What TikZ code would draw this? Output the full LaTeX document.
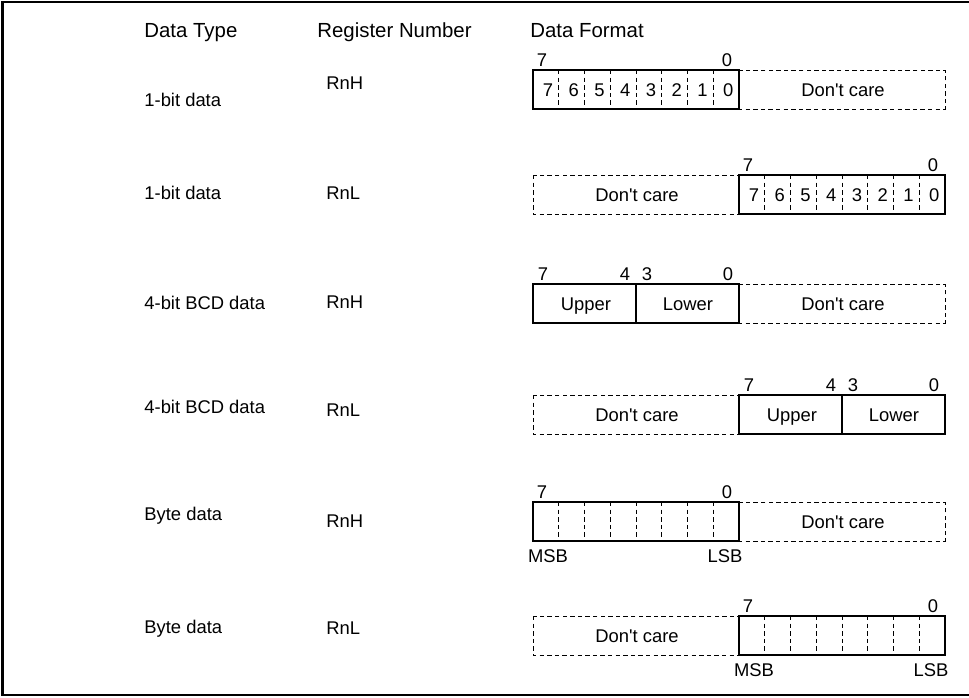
\documentclass[tikz,border=0pt]{standalone}
\usepackage{fontspec}
\setmainfont{Liberation Sans}
\usetikzlibrary{positioning}

\begin{document}
\begin{tikzpicture}[x=0.5pt, y=-0.5pt,
    txt/.style={inner sep=0pt, text height=6.6pt, text depth=0pt, font=\fontsize{9.2}{11}\selectfont},
    head/.style={txt, text height=7.3pt, font=\fontsize{10.2}{12}\selectfont},
    solidbox/.style={draw, line width=1.2pt},
    carebox/.style={draw, line width=0.45pt, dash pattern=on 2.2pt off 1.6pt},
    tick/.style={line width=0.45pt, dash pattern=on 2.2pt off 1.6pt}]
  \useasboundingbox (0,0) rectangle (969,697);
  \draw[line width=1.2pt] (969,2) -- (2.5,2) -- (2.5,695) -- (969,695);

  \node[head, anchor=west] (htype) at (144,30) {Data Type};
  \node[head, anchor=west] (hreg) at (317,30) {Register Number};
  \node[head, anchor=west] (hfmt) at (530,30) {Data Format};

  \foreach \n/\t/\ty/\r/\ry in {1/1-bit data/100/RnH/83, 2/1-bit data/193/RnL/193,
      3/4-bit BCD data/303/RnH/302, 4/4-bit BCD data/407/RnL/410,
      5/Byte data/514/RnH/521, 6/Byte data/627/RnL/628} {
    \node[txt, anchor=west] (type\n) at (144,\ty) {\t};
    \node[txt, anchor=west] (reg\n) at (326,\ry) {\r};
  }

  % don't care halves
  \foreach \n/\x/\top in {1/739/70, 2/533/175, 3/739/284, 4/533/395, 5/739/502, 6/533/616} {
    \draw[carebox] (\x,\top) rectangle ({\x+206},{\top+39});
    \node[txt] (care\n) at ({\x+104},{\top+19.5}) {Don\textquotesingle t care};
  }

  % 1-bit data
  \foreach \n/\x/\top in {1/533/70, 2/739/175} {
    \draw[solidbox] (\x,\top) rectangle ({\x+206},{\top+39});
    \foreach \i in {1,...,7}
      \draw[tick] ({\x+25.75*\i},\top) -- ({\x+25.75*\i},{\top+39});
    \foreach \i in {0,...,7}
      \node[txt] (bit\n\i) at ({\x+25.75*(7-\i)+15},{\top+19.5}) {\i};
    \node[txt] (hi\n) at ({\x+9},{\top-10}) {7};
    \node[txt] (lo\n) at ({\x+194},{\top-10}) {0};
  }

  % 4-bit BCD data
  \foreach \n/\x/\top in {3/533/284, 4/739/395} {
    \draw[solidbox] (\x,\top) rectangle ({\x+206},{\top+39});
    \draw[solidbox] ({\x+103},\top) -- ({\x+103},{\top+39});
    \node[txt] (upper\n) at ({\x+53},{\top+19.5}) {Upper};
    \node[txt] (lower\n) at ({\x+155},{\top+19.5}) {Lower};
    \node[txt] (hi\n) at ({\x+10},{\top-10}) {7};
    \node[txt] (mid\n) at ({\x+92},{\top-10}) {4};
    \node[txt] (midb\n) at ({\x+114},{\top-10}) {3};
    \node[txt] (lo\n) at ({\x+195},{\top-10}) {0};
  }

  % byte data
  \foreach \n/\x/\top in {5/533/502, 6/739/616} {
    \draw[solidbox] (\x,\top) rectangle ({\x+206},{\top+39});
    \foreach \i in {1,...,7}
      \draw[tick] ({\x+25.75*\i},\top) -- ({\x+25.75*\i},{\top+39});
    \node[txt] (hi\n) at ({\x+9},{\top-10}) {7};
    \node[txt] (lo\n) at ({\x+194},{\top-10}) {0};
    \node[txt] (msb\n) at ({\x+15},{\top+54}) {MSB};
    \node[txt] (lsb\n) at ({\x+192},{\top+54}) {LSB};
  }
\end{tikzpicture}
\end{document}
